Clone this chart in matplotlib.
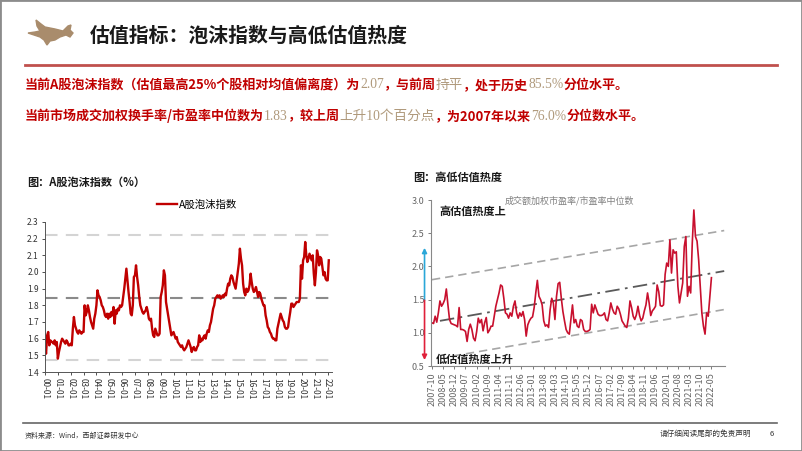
import matplotlib
matplotlib.use('Agg')
import matplotlib.pyplot as plt
from matplotlib.patches import Polygon, Rectangle
from matplotlib.lines import Line2D
import pandas as pd

plt.rcParams['font.family'] = ['Noto Sans CJK SC', 'DejaVu Sans']

W, H = 802, 451

# A股泡沫指数, monthly from 2000-01
bubble = [
    1.55, 1.51, 1.62, 1.64, 1.56, 1.59, 1.58, 1.58, 1.57, 1.59, 1.56, 1.58,
    1.48, 1.52, 1.55, 1.58, 1.60, 1.59, 1.58, 1.57, 1.59, 1.58, 1.56, 1.56,
    1.57, 1.56, 1.66, 1.73, 1.68, 1.66, 1.64, 1.63, 1.65, 1.64, 1.63, 1.64,
    1.64, 1.80, 1.74, 1.76, 1.80, 1.77, 1.73, 1.70, 1.68, 1.66, 1.72, 1.75,
    1.80, 1.89, 1.86, 1.85, 1.83, 1.80, 1.79, 1.77, 1.74, 1.73, 1.75, 1.72,
    1.75, 1.73, 1.76, 1.74, 1.79, 1.69, 1.77, 1.75, 1.78, 1.77, 1.80, 1.79,
    1.80, 1.85, 1.90, 1.96, 2.02, 1.95, 1.88, 1.82, 1.75, 1.74, 1.80, 1.97,
    1.98, 2.04, 1.97, 1.92, 1.85, 1.80, 1.78, 1.76, 1.75, 1.76, 1.77, 1.79,
    1.76, 1.72, 1.71, 1.72, 1.66, 1.62, 1.61, 1.66, 1.64, 1.62, 1.62, 1.63,
    1.85, 1.88, 1.92, 2.01, 1.98, 1.82, 1.78, 1.74, 1.70, 1.66, 1.62, 1.63,
    1.64, 1.62, 1.60, 1.61, 1.58, 1.57, 1.56, 1.55, 1.56, 1.54, 1.53, 1.54,
    1.55, 1.57, 1.59, 1.57, 1.55, 1.52, 1.54, 1.55, 1.53, 1.53, 1.55, 1.56,
    1.62, 1.58, 1.60, 1.59, 1.61, 1.62, 1.60, 1.63, 1.65, 1.64, 1.68, 1.70,
    1.74, 1.78, 1.80, 1.84, 1.85, 1.86, 1.85, 1.86, 1.84, 1.85, 1.86, 1.85,
    1.87, 1.86, 1.90, 1.93, 1.92, 1.96, 1.98, 1.97, 1.94, 1.92, 1.90, 1.95,
    2.00, 2.05, 2.14, 2.08, 2.04, 1.93, 1.88, 1.86, 1.90, 1.88, 1.89, 1.92,
    1.99, 1.94, 1.90, 1.88, 1.89, 1.91, 1.88, 1.85, 1.88, 1.87, 1.84, 1.82,
    1.80, 1.80, 1.74, 1.71, 1.67, 1.66, 1.64, 1.63, 1.61, 1.60, 1.60, 1.59,
    1.59, 1.66, 1.69, 1.72, 1.75, 1.73, 1.71, 1.70, 1.67, 1.66, 1.66, 1.67,
    1.72, 1.76, 1.81, 1.81, 1.79, 1.80, 1.81, 1.82, 1.82, 1.82, 1.84, 2.04,
    1.96, 2.07, 2.09, 2.18, 2.10, 2.06, 2.08, 2.11, 2.09, 2.07, 2.10, 1.99,
    1.92, 2.00, 2.13, 2.10, 2.04, 2.09, 2.08, 2.03, 1.98, 2.00, 1.96, 1.95,
    1.95, 2.07,
]
bubble_ticks = ['%02d-01' % y for y in range(0, 23)]
bubble_levels = [2.22, 1.845, 1.47]

# 成交额加权市盈率/市盈率中位数, monthly 2007-10 .. 2022-05
heat = [
    1.15, 1.14, 1.25, 1.16, 1.30, 1.48, 1.40, 1.44, 1.50, 1.66, 1.42, 1.20,
    1.14, 1.13, 1.12, 1.11, 1.09, 1.38, 1.05, 1.05, 1.04, 1.02, 0.87, 1.05,
    1.13, 1.05, 0.92, 0.88, 1.02, 1.22, 1.15, 1.20, 1.03, 1.15, 1.23, 1.00,
    1.04, 1.10, 1.10, 1.25, 1.40, 1.50, 1.60, 1.72, 1.70, 1.52, 1.30, 1.28,
    1.22, 1.30, 1.25, 1.40, 1.48, 1.30, 1.22, 1.30, 1.25, 1.32, 1.20, 0.95,
    1.12, 1.18, 1.22, 1.24, 1.38, 1.60, 1.79, 1.55, 1.50, 1.42, 1.18, 1.10,
    1.12, 1.08, 1.35, 1.52, 1.45, 1.20, 1.55, 1.74, 1.76, 1.52, 1.32, 1.18,
    1.05, 1.00, 0.98, 1.20, 1.42, 1.15, 1.20, 1.10, 1.08, 1.20, 1.18, 1.05,
    1.02, 1.02, 1.03, 1.05, 1.43, 1.30, 1.42, 1.35, 1.28, 1.26, 1.26, 1.27,
    1.30, 1.20, 1.18, 1.30, 1.45, 1.36, 1.30, 1.28, 1.40, 1.36, 1.28, 1.18,
    1.14, 1.10, 1.08, 1.22, 1.48, 1.38, 1.25, 1.20, 1.27, 1.40, 1.26, 1.18,
    1.22, 1.33, 1.42, 1.60, 1.45, 1.26, 1.33, 1.36, 1.40, 1.72, 1.62, 1.41,
    1.40, 1.42, 1.88, 2.05, 2.00, 2.40, 1.90, 2.25, 2.20, 2.22, 1.70, 1.45,
    1.60, 1.75, 2.30, 2.45, 1.55, 1.70, 1.60, 2.35, 2.85, 2.45, 2.38, 2.10,
    1.70, 1.30, 1.10, 0.98, 1.30, 1.25, 1.55, 1.83,
]
heat_months = pd.period_range('2007-10', '2022-05', freq='M')
heat_step = 7
# channel lines: (start/end month index, start/end value)
upper_band = ([0, 183], [1.80, 2.54])
mid_band = ([5, 183], [1.18, 1.93])
lower_band = ([13, 183], [0.65, 1.35])

RED = '#c00000'
TAN = '#b09a7c'


def fx(px):
    return px / W


def fy(py):
    return 1 - py / H


fig = plt.figure(figsize=(W / 100, H / 100), dpi=100)
fig.patches.append(Rectangle((0, 0), 1, 1, transform=fig.transFigure,
                             fill=False, edgecolor='#8c8c8c', lw=2))

# logo
bull = [(28, 33), (35, 32), (40, 31), (37, 26), (36, 20), (41, 24), (45, 27),
        (55, 29), (63, 31), (68, 26), (71, 25), (70, 30), (73, 33), (70, 37),
        (66, 35), (60, 37), (55, 40), (50, 41), (47, 45), (44, 40), (40, 37),
        (34, 35)]
fig.patches.append(Polygon([(fx(a), fy(b)) for a, b in bull], closed=True,
                           transform=fig.transFigure, color='#a98c6c'))

fig.text(fx(90), fy(35), '估值指标：泡沫指数与高低估值热度', fontsize=14.3,
         fontweight='bold', va='center', color='#1a1a1a')
fig.add_artist(Line2D([fx(25), fx(777)], [fy(65), fy(65)], color='#c0504d', lw=2))

renderer = fig.canvas.get_renderer()


def put_line(x, y, parts):
    for s, hi in parts:
        if hi:
            t = fig.text(x, y, s, fontsize=9.8, color=TAN, va='center',
                         family=['Liberation Serif', 'Noto Sans CJK SC'])
        else:
            t = fig.text(x, y, s, fontsize=9.4, color=RED, va='center',
                         fontweight='bold')
        bb = t.get_window_extent(renderer=renderer)
        x = bb.x1 / fig.bbox.width


put_line(fx(25), fy(85), [('当前A股泡沫指数（估值最高25%个股相对均值偏离度）为', 0), ('2.07', 1),
                          ('，与前周', 0), ('持平', 1), ('，处于历史', 0), ('85.5%', 1),
                          ('分位水平。', 0)])
put_line(fx(25), fy(116), [('当前市场成交加权换手率/市盈率中位数为', 0), ('1.83', 1),
                           ('，较上周', 0), ('上升10个百分点', 1), ('，为2007年以来', 0),
                           ('76.0%', 1), ('分位数水平。', 0)])

fig.text(fx(27), fy(182), '图：A股泡沫指数（%）', fontsize=8, fontweight='bold',
         va='center', color='#1a1a1a')
fig.text(fx(413), fy(177), '图：高低估值热度', fontsize=8, fontweight='bold',
         va='center', color='#1a1a1a')

# left chart
ax1 = fig.add_axes([fx(45), fy(372), fx(332 - 45), (372 - 222) / H])
x1 = list(range(len(bubble)))
ax1.plot(x1, bubble, color=RED, lw=1.7, label='A股泡沫指数')
for lv, c in zip(bubble_levels, ['#d4d4d4', '#8a8a8a', '#d4d4d4']):
    ax1.axhline(lv, color=c, lw=1.5, ls=(0, (6, 4)), zorder=0)
ax1.set_xlim(0, 268)
ax1.set_ylim(1.4, 2.3)
ax1.set_yticks([1.4 + 0.1 * i for i in range(10)])
ax1.set_yticklabels(['%.1f' % (1.4 + 0.1 * i) for i in range(10)])
ax1.set_xticks([12 * i for i in range(len(bubble_ticks))])
ax1.set_xticklabels(bubble_ticks, rotation=270)
ax1.tick_params(labelsize=6, colors='#333333', length=2.5, width=0.6, pad=2)
for s in ['top', 'right']:
    ax1.spines[s].set_visible(False)
for s in ['left', 'bottom']:
    ax1.spines[s].set_color('#555555')
    ax1.spines[s].set_linewidth(0.7)
ax1.legend(loc='lower center', bbox_to_anchor=(0.53, 1.02), frameon=False,
           fontsize=7.5, handlelength=2.0, handletextpad=0.2)

# right chart
ax2 = fig.add_axes([fx(431), fy(366), fx(725 - 431), (366 - 200) / H])
x2 = list(range(len(heat)))
ax2.plot(*upper_band, color='#a6a6a6', lw=1.2, ls=(0, (5, 3)))
ax2.plot(*lower_band, color='#a6a6a6', lw=1.2, ls=(0, (5, 3)))
ax2.plot(*mid_band, color='#5a5a5a', lw=1.3, ls=(0, (8, 3, 1.5, 3)))
ax2.plot(x2, heat, color='#c8102e', lw=1.2)
ax2.set_xlim(-0.6, 183.5)
ax2.set_ylim(0.5, 3.0)
ax2.set_yticks([0.5, 1.0, 1.5, 2.0, 2.5, 3.0])
ax2.set_yticklabels(['0.5', '1.0', '1.5', '2.0', '2.5', '3.0'])
tick_pos = list(range(0, len(heat), heat_step))
ax2.set_xticks(tick_pos)
ax2.set_xticklabels([heat_months[i].strftime('%Y-%m') for i in tick_pos], rotation=90)
ax2.tick_params(labelsize=6.5, colors='#666666', length=2.5, width=0.6, pad=2)
for s in ['top', 'right']:
    ax2.spines[s].set_visible(False)
for s in ['left', 'bottom']:
    ax2.spines[s].set_color('#888888')
    ax2.spines[s].set_linewidth(0.8)
ax2.text(0.25, 0.995, '成交额加权市盈率/市盈率中位数', transform=ax2.transAxes,
         fontsize=6.5, color='#808080', va='center')
ax2.text(0.03, 0.93, '高估值热度上', transform=ax2.transAxes, fontsize=8,
         fontweight='bold', va='center', color='#1a1a1a')
ax2.text(0.015, 0.04, '低估值热度上升', transform=ax2.transAxes, fontsize=8,
         fontweight='bold', va='center', color='#1a1a1a')
ax2.annotate('', xy=(-0.022, 2.28), xytext=(-0.022, 1.49),
             xycoords=('axes fraction', 'data'), textcoords=('axes fraction', 'data'),
             arrowprops=dict(arrowstyle='-|>', color='#2aa7d8', lw=1.2,
                             mutation_scale=7, shrinkA=0, shrinkB=0),
             annotation_clip=False)
ax2.annotate('', xy=(-0.022, 0.59), xytext=(-0.022, 1.49),
             xycoords=('axes fraction', 'data'), textcoords=('axes fraction', 'data'),
             arrowprops=dict(arrowstyle='-|>', color='#e0203a', lw=1.2,
                             mutation_scale=7, shrinkA=0, shrinkB=0),
             annotation_clip=False)

# footer
fig.add_artist(Line2D([fx(23), fx(777)], [fy(423), fy(423)], color='#666666', lw=1.2))
fig.text(fx(25), fy(436), '资料来源：Wind，西部证券研发中心', fontsize=5, va='center',
         color='#333333')
fig.text(fx(660), fy(434), '请仔细阅读尾部的免责声明', fontsize=5.5, va='center',
         color='#333333')
fig.text(fx(770), fy(434), '6', fontsize=5.5, va='center', color='#333333')

fig.savefig('out.png', dpi=100)
